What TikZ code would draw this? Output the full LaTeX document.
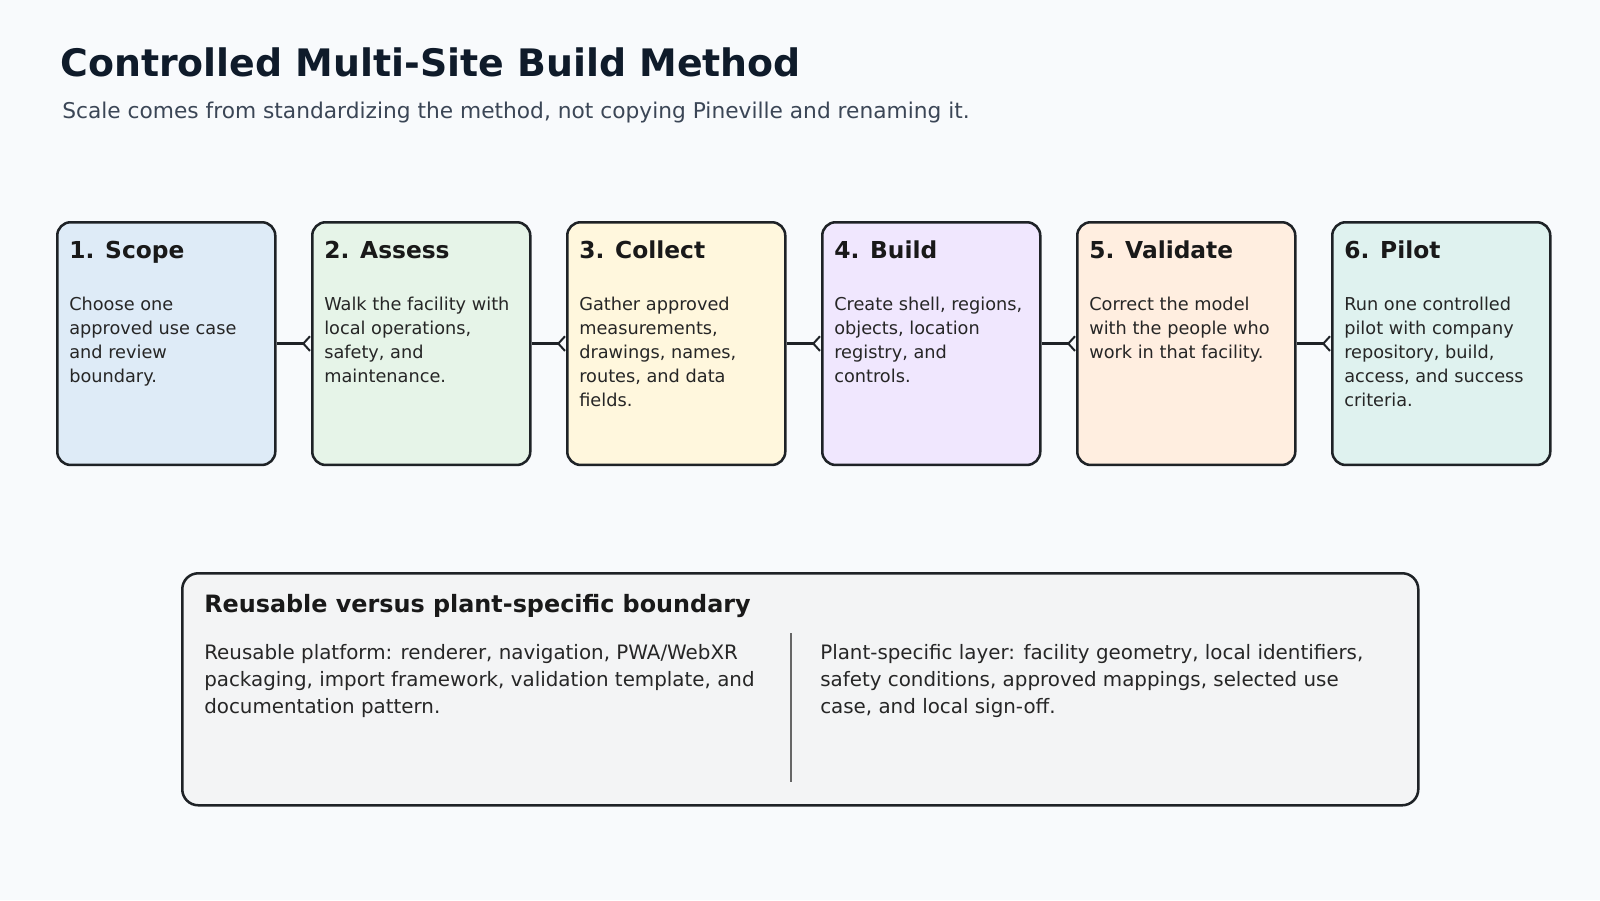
\documentclass[tikz,border=0pt]{standalone}
\usepackage{fontspec}
\setmainfont{DejaVu Sans}
\usetikzlibrary{arrows.meta, positioning}
\definecolor{pageBg}{HTML}{F8FAFC}
\definecolor{inkDark}{HTML}{1E2226}
\definecolor{titleInk}{HTML}{0F1B2A}
\definecolor{subInk}{HTML}{3B4656}
\definecolor{fillScope}{HTML}{DEEBF7}
\definecolor{fillAssess}{HTML}{E6F4E8}
\definecolor{fillCollect}{HTML}{FFF7DD}
\definecolor{fillBuild}{HTML}{F0E7FE}
\definecolor{fillValidate}{HTML}{FFEEE0}
\definecolor{fillPilot}{HTML}{DFF2EF}
\definecolor{fillBound}{HTML}{F3F4F5}
\tikzset{
    stepBox/.style={draw=inkDark, line width=1.9pt, rounded corners=10pt, minimum width=163.5pt, minimum height=182pt, inner sep=0pt},
    stepHead/.style={anchor=base west, inner sep=0pt, font=\fontsize{17.5}{20}\selectfont\bfseries, text=black!90},
    stepText/.style={anchor=north west, inner sep=0pt, align=left, font=\fontsize{13.3}{18}\selectfont, text=black!85},
    panelText/.style={anchor=north west, inner sep=0pt, align=left, font=\fontsize{14.9}{20.2}\selectfont, text=black!85},
    stepLink/.style={draw=inkDark, line width=1.9pt, -{Straight Barb[reversed, length=5pt, width=11pt, line width=1.5pt]}},
}
\newcommand{\drawStep}[5]{
    \node[stepBox, fill=#3, anchor=north west] (#1) at (#2, 221) {};
    \node[stepHead] (#1Head) at (#2+13, 258) {#4};
    \node[stepText] (#1Text) at (#2+13, 296.5) {#5};
}
\begin{document}
\begin{tikzpicture}[x=0.75pt, y=-0.75pt]
    \fill[pageBg] (0,0) rectangle (1600,900);
    \useasboundingbox (0,0) rectangle (1600,900);

    \node[anchor=base west, inner sep=0pt, font=\fontsize{28.4}{32}\selectfont\bfseries, text=titleInk] (title) at (60, 76) {Controlled Multi-Site Build Method};
    \node[anchor=base west, inner sep=0pt, font=\fontsize{16.3}{18}\selectfont, text=subInk] (subtitle) at (62, 118) {Scale comes from standardizing the method, not copying Pineville and renaming it.};

    \drawStep{scope}{56}{fillScope}{1. Scope}{Choose one\\approved use case\\and review\\boundary.}
    \drawStep{assess}{311}{fillAssess}{2. Assess}{Walk the facility with\\local operations,\\safety, and\\maintenance.}
    \drawStep{collect}{566}{fillCollect}{3. Collect}{Gather approved\\measurements,\\drawings, names,\\routes, and data\\fields.}
    \drawStep{build}{821}{fillBuild}{4. Build}{Create shell, regions,\\objects, location\\registry, and\\controls.}
    \drawStep{validate}{1076}{fillValidate}{5. Validate}{Correct the model\\with the people who\\work in that facility.}
    \drawStep{pilot}{1331}{fillPilot}{6. Pilot}{Run one controlled\\pilot with company\\repository, build,\\access, and success\\criteria.}

    \foreach \a/\b in {scope/assess, assess/collect, collect/build, build/validate, validate/pilot}
        \draw[stepLink] (\a.east) -- (\b.west);

    % boundary panel
    \node[draw=inkDark, line width=1.9pt, fill=fillBound, rounded corners=12pt, anchor=north west, minimum width=927pt, minimum height=174pt, inner sep=0pt] (bound) at (181, 572) {};
    \node[anchor=base west, inner sep=0pt, font=\fontsize{17.9}{20}\selectfont\bfseries, text=black!90] (boundHead) at (204, 612) {Reusable versus plant-specific boundary};
    \node[panelText] (reuseText) at (204, 644) {Reusable platform: renderer, navigation, PWA/WebXR\\packaging, import framework, validation template, and\\documentation pattern.};
    \node[panelText] (plantText) at (820, 644) {Plant-specific layer: facility geometry, local identifiers,\\safety conditions, approved mappings, selected use\\case, and local sign-off.};
    \coordinate (splitTop) at (791, 633);
    \coordinate (splitBot) at (791, 782);
    \draw[black!60, line width=1.2pt] (splitTop) -- (splitBot);
\end{tikzpicture}
\end{document}
